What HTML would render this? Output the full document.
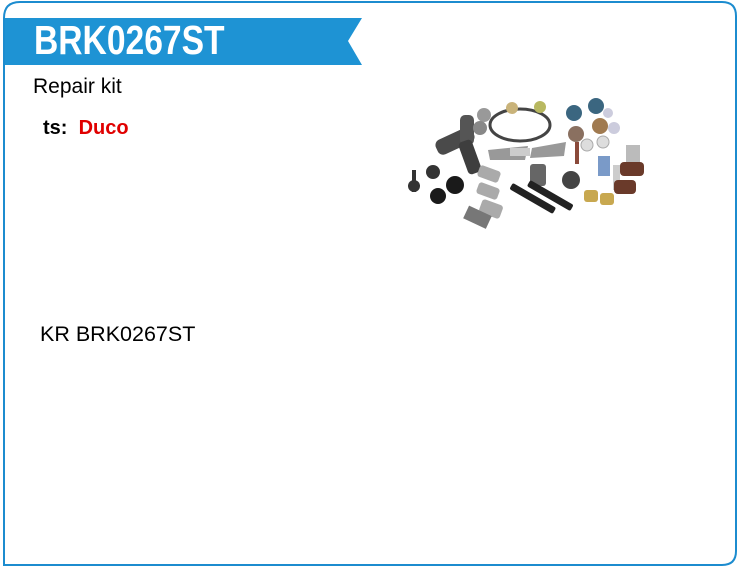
<!DOCTYPE html>
<html><head><style>
body{margin:0;width:740px;height:576px;background:#fff;font-family:"Liberation Sans",Arial,sans-serif;position:relative;overflow:hidden}
.t{position:absolute;white-space:nowrap}
</style></head><body>
<svg width="740" height="576" style="position:absolute;left:0;top:0">
<path d="M4,565 L4,18 Q4,2 20,2 L722,2 Q736,2 736,16 L736,551 Q736,565 722,565 Z" fill="none" stroke="#1c8ccf" stroke-width="2"/>
<polygon points="5,18 362,18 348,41 362,65 5,65" fill="#1e93d4"/>
<g>
<rect x="435" y="133" width="40" height="16" rx="6" fill="#4a4a4a" transform="rotate(-25 455 141)"/>
<rect x="460" y="115" width="14" height="30" rx="5" fill="#555"/>
<rect x="463" y="140" width="14" height="34" rx="4" fill="#3e3e3e" transform="rotate(-20 470 157)"/>
<circle cx="484" cy="115" r="7" fill="#999"/><circle cx="480" cy="128" r="7" fill="#888"/>
<ellipse cx="520" cy="125" rx="30" ry="16" fill="none" stroke="#444" stroke-width="3"/>
<circle cx="512" cy="108" r="6" fill="#c9b37a"/><circle cx="540" cy="107" r="6" fill="#b8b860"/>
<path d="M488,150 L528,146 L525,160 L490,160 Z" fill="#999"/><path d="M532,148 L566,142 L564,156 L530,158 Z" fill="#999"/>
<circle cx="574" cy="113" r="8" fill="#3b6680"/><circle cx="596" cy="106" r="8" fill="#3b6680"/>
<circle cx="600" cy="126" r="8" fill="#a07a50"/><circle cx="576" cy="134" r="8" fill="#8a7060"/>
<circle cx="608" cy="113" r="5" fill="#ccd"/><circle cx="614" cy="128" r="6" fill="#ccd"/>
<circle cx="587" cy="145" r="6" fill="#ddd" stroke="#aaa"/><circle cx="603" cy="142" r="6" fill="#ddd" stroke="#aaa"/>
<rect x="575" y="142" width="4" height="22" fill="#8a4a3a"/>
<rect x="626" y="145" width="14" height="30" fill="#bbb"/>
<rect x="598" y="156" width="12" height="20" fill="#7a9ac8"/><rect x="613" y="165" width="7" height="25" fill="#ccc"/>
<rect x="620" y="162" width="24" height="14" rx="4" fill="#6a3a2a"/><rect x="614" y="180" width="22" height="14" rx="4" fill="#6a3a2a"/>
<circle cx="571" cy="180" r="9" fill="#444"/><rect x="584" y="190" width="14" height="12" rx="3" fill="#c8a850"/><rect x="600" y="193" width="14" height="12" rx="3" fill="#c8a850"/>
<rect x="530" y="164" width="16" height="22" rx="3" fill="#666"/>
<rect x="412" y="170" width="4" height="22" fill="#333"/><circle cx="414" cy="186" r="6" fill="#333"/>
<circle cx="433" cy="172" r="7" fill="#333"/><circle cx="438" cy="196" r="8" fill="#1a1a1a"/><circle cx="455" cy="185" r="9" fill="#1a1a1a"/>
<rect x="478" y="168" width="22" height="12" rx="3" fill="#aaa" transform="rotate(20 489 174)"/>
<rect x="477" y="185" width="22" height="12" rx="3" fill="#aaa" transform="rotate(20 488 191)"/>
<rect x="480" y="202" width="22" height="14" rx="3" fill="#aaa" transform="rotate(20 491 209)"/>
<rect x="465" y="210" width="25" height="14" fill="#777" transform="rotate(25 477 217)"/>
<rect x="508" y="195" width="50" height="7" rx="2" fill="#222" transform="rotate(30 533 198)"/>
<rect x="525" y="192" width="50" height="7" rx="2" fill="#222" transform="rotate(30 550 196)"/>
<rect x="510" y="148" width="20" height="8" fill="#ccc"/>
</g>
</svg>
<div class="t" style="left:34px;top:17px;font-size:41px;font-weight:bold;color:#fff;line-height:46px;transform:scaleX(0.82);transform-origin:0 0">BRK0267ST</div>
<div class="t" style="left:33px;top:75px;font-size:21px;color:#000">Repair kit</div>
<div class="t" style="left:43px;top:117px;font-size:20px;font-weight:bold;color:#000">ts:&nbsp;&nbsp;<span style="color:#e00000">Duco</span></div>
<div class="t" style="left:40px;top:322px;font-size:21.5px;color:#000">KR BRK0267ST</div>
</body></html>
